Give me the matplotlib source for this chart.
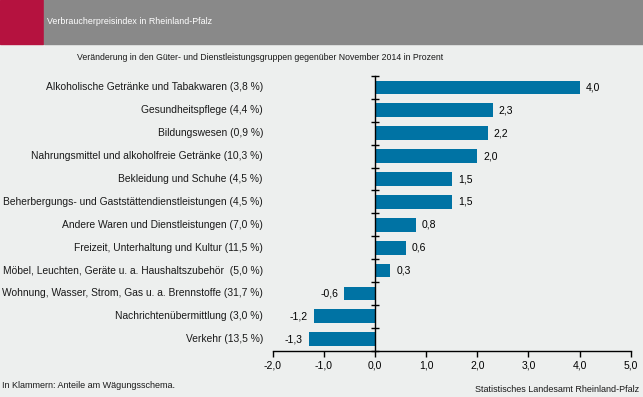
import matplotlib.pyplot as plt
import matplotlib.transforms as mtransforms
from matplotlib.patches import Rectangle
from matplotlib import font_manager
import numpy as np

plt.rcParams['font.family'] = ['Liberation Sans', 'DejaVu Sans']

categories = [
    "Alkoholische Getränke und Tabakwaren (3,8 %)",
    "Gesundheitspflege (4,4 %)",
    "Bildungswesen (0,9 %)",
    "Nahrungsmittel und alkoholfreie Getränke (10,3 %)",
    "Bekleidung und Schuhe (4,5 %)",
    "Beherbergungs- und Gaststättendienstleistungen (4,5 %)",
    "Andere Waren und Dienstleistungen (7,0 %)",
    "Freizeit, Unterhaltung und Kultur (11,5 %)",
    "Möbel, Leuchten, Geräte u. a. Haushaltszubehör  (5,0 %)",
    "Wohnung, Wasser, Strom, Gas u. a. Brennstoffe (31,7 %)",
    "Nachrichtenübermittlung (3,0 %)",
    "Verkehr (13,5 %)",
]
values = [4.0, 2.3, 2.2, 2.0, 1.5, 1.5, 0.8, 0.6, 0.3, -0.6, -1.2, -1.3]
xticks = [-2, -1, 0, 1, 2, 3, 4, 5]

bg = '#EDEFEE'
bar_color = '#0073A4'

# narrow font for the headings if it is there
names = {f.name for f in font_manager.fontManager.ttflist}
if 'Liberation Sans Narrow' in names:
    head_font, head_size, title_size = 'Liberation Sans Narrow', 7.8, 7.6
else:
    head_font, head_size, title_size = 'Liberation Sans', 6.4, 6.3

fig = plt.figure(figsize=(6.43, 3.97), dpi=100, facecolor=bg)

# header band
fig.patches.append(Rectangle((0, 1 - 44 / 397), 43 / 643, 44 / 397,
                             transform=fig.transFigure, color='#B5123F', zorder=0))
fig.patches.append(Rectangle((44 / 643, 1 - 44 / 397), 1 - 44 / 643, 44 / 397,
                             transform=fig.transFigure, color='#898989', zorder=0))
fig.text(47 / 643, 1 - 22 / 397, "Verbraucherpreisindex in Rheinland-Pfalz",
         color='white', fontsize=head_size, family=head_font, va='center', ha='left')
fig.text(260 / 643, 1 - 57 / 397,
         "Veränderung in den Güter- und Dienstleistungsgruppen gegenüber November 2014 in Prozent",
         color='#1a1a1a', fontsize=title_size, family=head_font, va='center', ha='center')

ax = fig.add_axes([272.7 / 643, 1 - 350.7 / 397, 358 / 643, 274.7 / 397])
ax.set_facecolor(bg)

n = len(categories)
y = np.arange(n)[::-1]
ax.barh(y, values, height=0.6, color=bar_color, zorder=2)

ax.set_xlim(-2, 5)
ax.set_ylim(-0.5, n - 0.5)
ax.set_xticks(xticks)
ax.set_xticklabels([f"{t:.1f}".replace('.', ',') for t in xticks], fontsize=7.5)
ax.tick_params(axis='x', direction='out', length=4, width=1, pad=3)

for s in ['top', 'right']:
    ax.spines[s].set_visible(False)
ax.spines['left'].set_position(('data', 0))
ax.spines['left'].set_linewidth(1)
ax.spines['bottom'].set_linewidth(1)

ax.set_yticks([])
ax.set_yticks(np.arange(n + 1) - 0.5, minor=True)
ax.tick_params(axis='y', which='minor', direction='inout', length=6, width=1,
               labelleft=False)

trans = mtransforms.blended_transform_factory(ax.transAxes, ax.transData)
for yi, lab in zip(y, categories):
    ax.text(-9.7 / 358, yi, lab, transform=trans, ha='right', va='center',
            fontsize=7.35, color='#1a1a1a')

for yi, v in zip(y, values):
    txt = f"{v:.1f}".replace('.', ',')
    if v >= 0:
        ax.text(v + 0.12, yi, txt, ha='left', va='center', fontsize=7.5)
    else:
        ax.text(v - 0.12, yi, txt, ha='right', va='center', fontsize=7.5)

fig.text(2 / 643, 1 - 385 / 397, "In Klammern: Anteile am Wägungsschema.",
         fontsize=6.5, ha='left', va='center', color='#1a1a1a')
fig.text(639 / 643, 1 - 389 / 397, "Statistisches Landesamt Rheinland-Pfalz",
         fontsize=6.5, ha='right', va='center', color='#1a1a1a')

fig.savefig('out.png', dpi=100, facecolor=bg)
